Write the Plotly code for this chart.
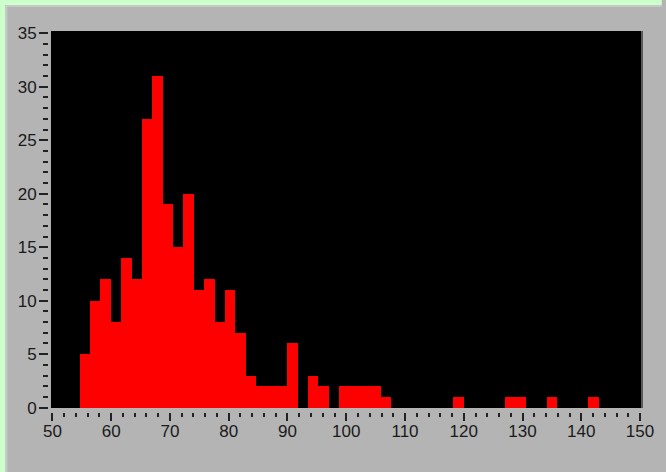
import plotly.graph_objects as go

# ---- data (histogram counts, 50 equal bins) ----
bin_start = 54.63
bin_width = 1.766
counts = [5, 10, 12, 8, 14, 12, 27, 31, 19, 15,
          20, 11, 12, 8, 11, 7, 3, 2, 2, 2,
          6, 0, 3, 2, 0, 2, 2, 2, 2, 1,
          0, 0, 0, 0, 0, 0, 1, 0, 0, 0,
          0, 1, 1, 0, 0, 1, 0, 0, 0, 1]
x_tick_vals = [50, 60, 70, 80, 90, 100, 110, 120, 130, 140, 150]
y_tick_vals = [0, 5, 10, 15, 20, 25, 30, 35]

centers = [bin_start + bin_width * (i + 0.5) for i in range(len(counts))]

W, H = 666, 472
ML, MR, MT, MB = 48, 17, 31, 60
PW = W - ML - MR
PH = H - MT - MB


def px(p):
    return (p - ML) / PW


def py(p):
    return (H - MB - p) / PH


GRAY = "#B4B4B4"
GREEN = "#CCFFCC"
TXT = "#1a1a1a"

fig = go.Figure(go.Bar(
    x=centers, y=counts, width=bin_width,
    marker=dict(color="#FF0000", line=dict(width=0)),
    hoverinfo="x+y",
))

shapes = [
    # green window border (top & left)
    dict(type="rect", xref="paper", yref="paper", x0=px(0), x1=px(W + 2), y0=py(5), y1=py(-2),
         fillcolor=GREEN, line=dict(width=0), layer="above"),
    dict(type="rect", xref="paper", yref="paper", x0=px(-2), x1=px(5), y0=py(H + 2), y1=py(-2),
         fillcolor=GREEN, line=dict(width=0), layer="above"),
    # light bevel line
    dict(type="rect", xref="paper", yref="paper", x0=px(5), x1=px(W + 2), y0=py(7), y1=py(5),
         fillcolor="#C8C8C8", line=dict(width=0), layer="above"),
    dict(type="rect", xref="paper", yref="paper", x0=px(5), x1=px(7), y0=py(H + 2), y1=py(5),
         fillcolor="#C8C8C8", line=dict(width=0), layer="above"),
    # dark edge on the right of the plot area
    dict(type="line", xref="paper", yref="paper", x0=px(648), x1=px(648), y0=py(408), y1=py(31),
         line=dict(color="#5a5a5a", width=2), layer="above"),
]

fig.update_layout(
    width=W, height=H,
    margin=dict(l=ML, r=MR, t=MT, b=MB, pad=0),
    paper_bgcolor=GRAY,
    plot_bgcolor="#000000",
    showlegend=False,
    bargap=0,
    shapes=shapes,
    font=dict(family="Liberation Sans, Arial, sans-serif", size=17, color=TXT),
    xaxis=dict(
        domain=[px(51), 1],
        range=[49.75, 150.5],
        anchor="free", position=0,
        tickmode="array", tickvals=x_tick_vals,
        ticks="outside", ticklen=8, tickwidth=1.5, tickcolor="#222222",
        ticklabelstandoff=-4,
        minor=dict(dtick=2, tick0=50, ticks="outside", ticklen=4, tickwidth=1.5, tickcolor="#222222",
                   showgrid=False),
        showgrid=False, zeroline=False, showline=False,
        tickfont=dict(size=17, color=TXT),
    ),
    yaxis=dict(
        domain=[py(408), py(31)],
        range=[-0.03, 35.21],
        anchor="free", position=0,
        tickmode="array", tickvals=y_tick_vals,
        ticks="outside", ticklen=9, tickwidth=1.5, tickcolor="#222222",
        ticklabelstandoff=-1,
        minor=dict(dtick=1, tick0=0, ticks="outside", ticklen=5, tickwidth=1.5, tickcolor="#222222",
                   showgrid=False),
        showgrid=False, zeroline=False, showline=False,
        tickfont=dict(size=17, color=TXT),
    ),
)

fig.write_html("out.html")
